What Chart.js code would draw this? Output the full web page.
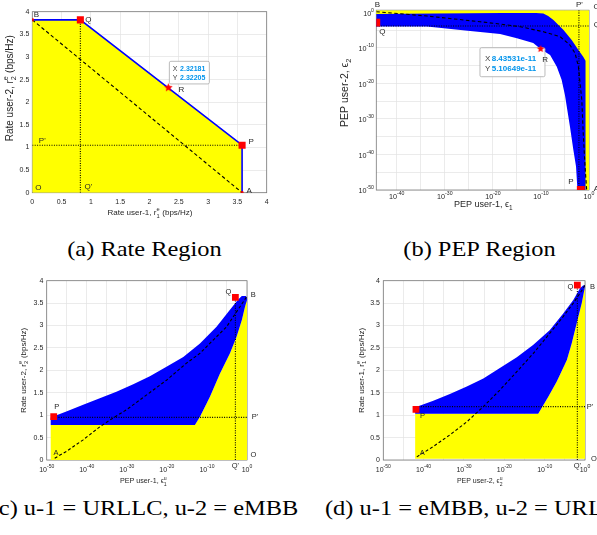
<!DOCTYPE html>
<html><head><meta charset="utf-8">
<script src="https://cdn.jsdelivr.net/npm/chart.js@4.4.1/dist/chart.umd.min.js"></script>
<style>
html,body{margin:0;padding:0;background:#fff;}
#wrap{position:relative;width:597px;height:535px;overflow:hidden;background:#fff;}
canvas{position:absolute;}
.cap{position:absolute;white-space:nowrap;text-align:center;font-family:"Liberation Serif","Times New Roman",serif;font-size:22px;line-height:22px;color:#000;transform:scaleX(1.11);}
</style></head><body>
<div id="wrap">
<canvas id="ca" width="300" height="225" style="left:0;top:0"></canvas>
<canvas id="cb" width="297" height="225" style="left:300px;top:0"></canvas>
<canvas id="cc" width="300" height="225" style="left:0;top:265px"></canvas>
<canvas id="cd" width="297" height="225" style="left:300px;top:265px"></canvas>
<div class="cap" style="left:0;width:289px;top:237.5px">(a) Rate Region</div>
<div class="cap" style="left:330px;width:299px;top:237.5px">(b) PEP Region</div>
<div class="cap" style="left:0;width:289px;top:497px">(c) u-1 = URLLC, u-2 = eMBB</div>
<div class="cap" style="left:330px;width:299px;top:497px">(d) u-1 = eMBB, u-2 = URLLC</div>
</div>
<script>
// ================= DATA =================
// (a) Rate region  (rates in bps/Hz)
const aRegionR1   = [0, 0, 0.82, 3.58, 3.58];
const aRegionR2   = [0, 3.82, 3.82, 1.05, 0];
const aFrontierR1 = [0, 0.82, 3.58, 3.58];
const aFrontierR2 = [3.82, 3.82, 1.05, 0];
const aTdmaR1 = [0, 3.58];
const aTdmaR2 = [3.82, 0];
const aP = [3.58, 1.05];
const aQ = [0.82, 3.82];
const aR = [2.32181, 2.32205];
const aB = [0, 3.82];
const aA = [3.58, 0];

// (b) PEP region  (PEP user-1, PEP user-2)
const bXMin = 5.6e-45, bXMax = 1, bYMin = 1e-50, bYMax = 4;
const bOuterPep1 = [3.2e-45, 1e-32, 1e-18, 1e-11, 3.2e-10, 3.2e-9, 4e-8, 5e-6, 2.5e-4, 6.3e-3, 6.3e-2, 0.19, 0.19];
const bOuterPep2 = [0.35, 0.5, 0.63, 0.63, 0.45, 0.1, 6.8e-3, 1e-5, 1.6e-8, 2.5e-11, 3.2e-13, 2.5e-14, 1e-50];
const bInnerPep1 = [2e-45, 2e-34, 6e-26, 3.2e-19, 1e-15, 2.5e-12, 8.5e-11, 8e-9, 2e-7, 2e-6, 1e-5, 1.1e-4, 5.5e-4, 2e-3, 4e-3];
const bInnerPep2 = [1e-4, 1e-4, 6.3e-6, 8e-7, 5e-8, 2.5e-9, 5.1e-11, 1e-12, 5e-16, 1e-19, 5e-24, 6.3e-33, 2e-39, 4e-44, 1e-50];
const bYellowPep1 = [3e-45, 1, 1, 0.1, 0.05, 0.01, 3e-5, 1e-8, 1e-15, 3e-45];
const bYellowPep2 = [4, 4, 1e-50, 1e-50, 1e-20, 1e-12, 1e-7, 1e-3, 1e-2, 1e-2];
const bDashPep1 = [5.6e-45, 2e-34, 2e-23, 3.2e-19, 5e-15, 3.2e-10, 1e-6, 1.1e-4, 1.26e-3, 6.3e-3, 1.4e-2, 3.2e-2, 6.3e-2, 0.15, 0.33];
const bDashPep2 = [1.5, 9e-2, 2.3e-3, 5e-4, 9e-5, 3.5e-6, 1.35e-7, 6.3e-10, 3.2e-12, 5e-16, 1e-20, 2e-25, 1e-34, 4e-44, 1e-50];
const bQ = [5.6e-45, 1.26e-3];
const bP = [0.02, 1e-50];
const bR = [8.43531e-11, 5.10649e-11];
const bQPrimePep2 = 1.5e-4;
const bPPrimePep1 = 8e-3;
const bXTickExp = [-40, -30, -20, -10, 0];
const bXGridExp = [-40, -35, -30, -25, -20, -15, -10, -5, 0];
const bYTickExp = [-50, -40, -30, -20, -10, 0];
const bYGridExp = [-50, -45, -40, -35, -30, -25, -20, -15, -10, -5, 0];

// (c) u-1 = URLLC (PEP), u-2 = eMBB (rate)
const cUpperPep  = [1e-49, 7.9e-46, 1.26e-41, 1.8e-37, 2.5e-33, 4e-29, 5.6e-25, 7.9e-21, 1.26e-16, 1.8e-12, 2.5e-8, 5.6e-5, 6.3e-3, 0.05, 0.56, 1];
const cUpperRate = [0.95, 1.08, 1.23, 1.38, 1.52, 1.69, 1.87, 2.08, 2.30, 2.60, 2.97, 3.35, 3.58, 3.66, 3.66, 3.61];
const cLowerPep  = [1, 0.32, 0.05, 2.5e-3, 5.6e-5, 1.8e-7, 5.6e-10, 1.8e-12, 1e-13, 1e-49];
const cLowerRate = [3.57, 3.42, 3.12, 2.75, 2.38, 1.93, 1.41, 0.966, 0.78, 0.78];
const cYellowPep  = [1e-49, 1e-49, 1e-13, 1.8e-12, 5.6e-10, 1.8e-7, 5.6e-5, 2.5e-3, 0.05, 0.32, 1, 1];
const cYellowRate = [0, 0.78, 0.78, 0.966, 1.41, 1.93, 2.38, 2.75, 3.12, 3.42, 3.57, 0];
const cDashPep  = [1e-48, 7.9e-46, 1.26e-41, 1.8e-37, 5.6e-35, 8e-31, 1.8e-27, 7.9e-21, 8e-16, 1.8e-12, 4e-9, 8e-6, 4e-4, 1.8e-2, 0.8];
const cDashRate = [0.04, 0.19, 0.45, 0.74, 0.89, 1.12, 1.34, 1.78, 2.16, 2.38, 2.68, 2.97, 3.2, 3.42, 3.64];
const cP = [5.6e-49, 0.97];
const cQ = [1.26e-3, 3.63];
const cPPrimeRate = 0.95;

// (d) u-1 = eMBB (rate), u-2 = URLLC (PEP)
const dUpperPep  = [7.9e-43, 2e-42, 2.5e-38, 3.2e-34, 5e-30, 6.3e-26, 7.9e-22, 1.26e-17, 1.6e-13, 2e-9, 4e-6, 1.26e-3, 0.058, 0.4, 1];
const dUpperRate = [1.19, 1.19, 1.32, 1.47, 1.64, 1.82, 2.05, 2.29, 2.57, 2.9, 3.27, 3.57, 3.83, 3.9, 3.89];
const dLowerPep  = [1, 0.16, 8.7e-3, 5e-4, 3.2e-5, 1e-7, 7.9e-10, 2.5e-12, 7.9e-43];
const dLowerRate = [3.87, 3.5, 3.05, 2.6, 2.23, 1.75, 1.41, 1.03, 1.03];
const dYellowPep  = [7.9e-43, 7.9e-43, 2.5e-12, 7.9e-10, 1e-7, 3.2e-5, 5e-4, 8.7e-3, 0.16, 1, 1];
const dYellowRate = [0.03, 1.03, 1.03, 1.41, 1.75, 2.23, 2.6, 3.05, 3.5, 3.87, 0.03];
const dDashPep  = [2e-42, 2.5e-38, 3.2e-34, 5e-30, 6.3e-26, 7.9e-22, 1.26e-17, 1.6e-13, 2e-9, 4e-6, 1.26e-3, 0.058, 1];
const dDashRate = [0.07, 0.30, 0.56, 0.85, 1.19, 1.56, 1.97, 2.38, 2.83, 3.2, 3.5, 3.72, 3.9];
const dP = [1.26e-42, 1.13];
const dQ = [0.0126, 3.9];
const dPPrimeRate = 1.19;

const cdXTickExp = [-50, -40, -30, -20, -10, 0];
const cdXGridExp = [-50, -45, -40, -35, -30, -25, -20, -15, -10, -5, 0];

// ================= STYLE / HELPERS =================
const FONT = '"Liberation Sans", Arial, Helvetica, "DejaVu Sans", sans-serif';
const TXT = '#262626', GRID = '#e2e2e2', BOX = '#7a7a7a';
const YEL = '#ffff00', BLU = '#0000ff', RED = '#ff0000';
Chart.defaults.font.family = FONT;
Chart.defaults.color = TXT;
function fnt(size, bold) { return (bold ? 'bold ' : '') + size + 'px ' + FONT; }
function pts(xs, ys) { return xs.map((x, i) => ({x: x, y: ys[i]})); }
function poly(xs, ys, color, order) {
  return {data: pts(xs, ys), showLine: true, fill: 'shape', backgroundColor: color, borderColor: 'rgba(0,0,0,0)',
          borderWidth: 0, pointRadius: 0, order: order};
}
function line(xs, ys, color, w, dash, order) {
  return {data: pts(xs, ys), showLine: true, fill: false, borderColor: color, borderWidth: w, borderDash: dash || [],
          pointRadius: 0, order: order};
}
function marker(p, style, r, order) {
  return {data: [{x: p[0], y: p[1]}], showLine: false, pointStyle: style, pointRadius: r,
          pointBackgroundColor: RED, pointBorderColor: RED, pointBorderWidth: 0, order: order};
}
function starImg(r) {
  const c = document.createElement('canvas'); const s = Math.ceil(r * 2 + 2);
  c.width = s; c.height = s;
  const g = c.getContext('2d'); g.fillStyle = RED; g.beginPath();
  for (let i = 0; i < 10; i++) {
    const ang = -Math.PI / 2 + i * Math.PI / 5, rr = (i % 2) ? r * 0.45 : r;
    g.lineTo(s / 2 + rr * Math.cos(ang), s / 2 + rr * Math.sin(ang));
  }
  g.closePath(); g.fill(); return c;
}
function drawRich(ctx, segs, x, y, size, rot) {
  ctx.save(); ctx.translate(x, y); if (rot) ctx.rotate(rot);
  const small = size * 0.72; let w = 0;
  const parts = segs.map(s => {
    if (typeof s === 'string') { ctx.font = fnt(size); const pw = ctx.measureText(s).width; w += pw; return {s: s, pw: pw}; }
    ctx.font = fnt(small);
    const pw = Math.max(s.sub ? ctx.measureText(s.sub).width : 0, s.sup ? ctx.measureText(s.sup).width : 0) + 0.5;
    w += pw; return {sub: s.sub, sup: s.sup, pw: pw};
  });
  let cx = -w / 2;
  ctx.fillStyle = TXT; ctx.textBaseline = 'middle'; ctx.textAlign = 'left';
  parts.forEach(p => {
    if (p.s !== undefined) { ctx.font = fnt(size); ctx.fillText(p.s, cx, 0); }
    else { ctx.font = fnt(small); if (p.sub) ctx.fillText(p.sub, cx, size * 0.38); if (p.sup) ctx.fillText(p.sup, cx, -size * 0.42); }
    cx += p.pw;
  });
  ctx.restore();
}
function drawLogTicks(chart, spec) {
  const ctx = chart.ctx, a = chart.chartArea, s = chart.scales[spec.axis];
  ctx.save(); ctx.fillStyle = TXT; ctx.textBaseline = 'middle'; ctx.textAlign = 'left';
  spec.exps.forEach(e => {
    const p = s.getPixelForValue(Math.pow(10, e));
    const es = String(e);
    ctx.font = fnt(spec.size); const wb = ctx.measureText('10').width;
    ctx.font = fnt(spec.size * 0.72); const we = ctx.measureText(es).width;
    let x0, yb;
    if (s.isHorizontal()) { x0 = p - (wb + we) / 2; yb = a.bottom + spec.off; }
    else { x0 = a.left - spec.off - (wb + we); yb = p + spec.dy; }
    ctx.font = fnt(spec.size); ctx.fillText('10', x0, yb);
    ctx.font = fnt(spec.size * 0.72); ctx.fillText(es, x0 + wb, yb - spec.size * 0.5);
  });
  ctx.restore();
}
function drawTip(chart, t) {
  const ctx = chart.ctx, sx = chart.scales.x, sy = chart.scales.y;
  const px = sx.getPixelForValue(t.at[0]), py = sy.getPixelForValue(t.at[1]);
  const L = px + t.box[0], T = py + t.box[1], W = t.box[2], H = t.box[3];
  ctx.save();
  ctx.beginPath();
  if (ctx.roundRect) ctx.roundRect(L, T, W, H, 1.5); else ctx.rect(L, T, W, H);
  ctx.fillStyle = 'rgba(255,255,255,0.93)'; ctx.fill();
  ctx.strokeStyle = '#a9a9a9'; ctx.lineWidth = 0.8; ctx.stroke();
  ctx.textBaseline = 'middle'; ctx.textAlign = 'left';
  t.lines.forEach((ln, i) => {
    const yy = T + t.line0 + i * t.gap;
    ctx.font = fnt(t.size); ctx.fillStyle = '#444'; ctx.fillText(ln[0], L + t.lx, yy);
    ctx.font = fnt(t.size, true); ctx.fillStyle = 'rgb(0,148,236)'; ctx.fillText(ln[1], L + t.vx, yy);
  });
  ctx.restore();
}
const decor = {
  id: 'decor',
  beforeDatasetsDraw(chart) {
    const ctx = chart.ctx, a = chart.chartArea;
    ctx.save(); ctx.strokeStyle = BOX; ctx.lineWidth = 0.8;
    ctx.strokeRect(a.left, a.top, a.right - a.left, a.bottom - a.top); ctx.restore();
  },
  afterDatasetDraw(chart, args, o) {
    if (o.tip && args.index === o.tip.afterIndex) drawTip(chart, o.tip);
  },
  afterDatasetsDraw(chart, args, o) {
    const ctx = chart.ctx, a = chart.chartArea, sc = chart.scales;
    (o.logTicks || []).forEach(spec => drawLogTicks(chart, spec));
    (o.titles || []).forEach(tt => {
      if (tt.axis === 'x') drawRich(ctx, tt.segs, (a.left + a.right) / 2 + tt.dx, a.bottom + tt.dy, tt.size, 0);
      else drawRich(ctx, tt.segs, a.left + tt.dx, (a.top + a.bottom) / 2 + tt.dy, tt.size, -Math.PI / 2);
    });
    ctx.save(); ctx.fillStyle = TXT; ctx.textAlign = 'center'; ctx.textBaseline = 'middle'; ctx.font = fnt(o.labelSize || 8);
    (o.labels || []).forEach(l => {
      ctx.fillText(l.t, sc.x.getPixelForValue(l.at[0]) + l.dx, sc.y.getPixelForValue(l.at[1]) + l.dy);
    });
    ctx.restore();
  }
};
function linAxis(isX, size, pad) {
  return {type: 'linear', min: 0, max: 4,
    afterFit: s => { if (isX) s.height = size; else s.width = size; },
    ticks: {stepSize: 0.5, autoSkip: false, maxRotation: 0, padding: pad, font: {size: 7}, color: TXT,
            callback: v => String(v)},
    grid: {color: GRID, lineWidth: 0.7, drawTicks: false}, border: {display: false}};
}
function logAxis(isX, size, min, max, gridExp) {
  return {type: 'logarithmic', min: min, max: max,
    afterFit: s => { if (isX) s.height = size; else s.width = size; },
    afterBuildTicks: s => { s.ticks = gridExp.map(e => ({value: Math.pow(10, e)})); },
    ticks: {display: false}, grid: {color: GRID, lineWidth: 0.7, drawTicks: false}, border: {display: false}};
}
function make(id, datasets, scales, padding, decorOpts) {
  return new Chart(document.getElementById(id), {
    type: 'scatter', data: {datasets: datasets}, plugins: [decor],
    options: {responsive: false, animation: false, devicePixelRatio: 1, events: [],
      layout: {padding: padding},
      plugins: {legend: {display: false}, tooltip: {enabled: false}, decor: decorOpts},
      scales: scales}
  });
}

// ================= (a) =================
make('ca', [
  poly(aRegionR1, aRegionR2, YEL, 10),
  line(aFrontierR1, aFrontierR2, BLU, 1.6, null, 6),
  line(aTdmaR1, aTdmaR2, '#000', 1.1, [3.5, 2.5], 5),
  line([aQ[0], aQ[0]], [0, aQ[1]], '#000', 1.1, [1, 1.4], 4),
  line([0, aP[0]], [aP[1], aP[1]], '#000', 1.1, [1, 1.4], 3),
  marker(aP, 'rect', 5, 2),
  marker(aQ, 'rect', 5, 2),
  marker(aB, 'circle', 1.8, 2),
  marker(aA, 'circle', 1.8, 2),
  marker(aR, starImg(4.5), 4, 1)
], {x: linAxis(true, 32.3, 5), y: linAxis(false, 32.3, 3)},
{left: 0, top: 11.7, right: 33.3, bottom: 0},
{
  labelSize: 8,
  tip: {afterIndex: 4, at: aR, box: [1, -26.3, 40, 22.6], lx: 3.4, vx: 10.7, line0: 7.6, gap: 9, size: 7,
        lines: [['X', String(aR[0])], ['Y', String(aR[1])]]},
  titles: [
    {axis: 'x', segs: ['Rate user-1, r', {sub: '1', sup: 'e'}, ' (bps/Hz)'], dx: 0.5, dy: 20.3, size: 8},
    {axis: 'y', segs: ['Rate user-2, r', {sub: '2', sup: 'e'}, ' (bps/Hz)'], dx: -22.3, dy: -14, size: 10}
  ],
  labels: [
    {t: 'B', at: aB, dx: 4, dy: -5.5}, {t: 'Q', at: aQ, dx: 8, dy: 0}, {t: 'R', at: aR, dx: 13, dy: 2},
    {t: 'P', at: aP, dx: 9, dy: -3}, {t: 'A', at: aA, dx: 7, dy: -2}, {t: 'O', at: [0, 0], dx: 6, dy: -5},
    {t: "Q'", at: [aQ[0], 0], dx: 8, dy: -6}, {t: "P'", at: [0, aP[1]], dx: 10, dy: -4}
  ]
});

// ================= (b) =================
make('cb', [
  poly(bYellowPep1, bYellowPep2, YEL, 10),
  poly(bOuterPep1.concat(bInnerPep1.slice().reverse()), bOuterPep2.concat(bInnerPep2.slice().reverse()), BLU, 9),
  line(bDashPep1, bDashPep2, '#000', 1.1, [3.5, 2.5], 5),
  line([bPPrimePep1, bPPrimePep1], [bYMax, bYMin], '#000', 1.1, [1, 1.4], 4),
  line([bQ[0], bXMax], [bQPrimePep2, bQPrimePep2], '#000', 1.1, [1, 1.4], 3),
  marker(bQ, 'rect', 5.6, 2),
  marker(bP, 'rect', 5.6, 2),
  marker(bR, starImg(4), 4, 1)
], {x: logAxis(true, 35, bXMin, bXMax, bXGridExp), y: logAxis(false, 76.3, bYMin, bYMax, bYGridExp)},
{left: 0, top: 10.2, right: 8, bottom: 0},
{
  labelSize: 8,
  tip: {afterIndex: 4, at: bR, box: [-60.6, -1.2, 65, 29], lx: 5, vx: 11.7, line0: 10.6, gap: 10, size: 8,
        lines: [['X', String(bR[0])], ['Y', String(bR[1])]]},
  logTicks: [
    {axis: 'x', exps: bXTickExp, size: 7.2, off: 6.8},
    {axis: 'y', exps: bYTickExp, size: 7.2, off: 2.3, dy: 1.5}
  ],
  titles: [
    {axis: 'x', segs: ['PEP user-1, ', '\u03F5', {sub: '1'}], dx: 1, dy: 14.5, size: 9},
    {axis: 'y', segs: ['PEP user-2, ', '\u03F5', {sub: '2'}], dx: -31.3, dy: -7.6, size: 10.5}
  ],
  labels: [
    {t: 'B', at: [bXMin, 1], dx: 1.2, dy: -7.8}, {t: 'Q', at: bQ, dx: 6, dy: 9.5}, {t: 'R', at: bR, dx: 4.5, dy: 11},
    {t: 'P', at: bP, dx: -10, dy: -8.5}, {t: 'A', at: [bXMax, bYMin], dx: 7.5, dy: -1},
    {t: "P'", at: [bPPrimePep1, 1], dx: 0.5, dy: -7.3}, {t: 'O', at: [bXMax, 1], dx: 7.5, dy: -6},
    {t: "Q'", at: [bXMax, bQPrimePep2], dx: 8.5, dy: -1}
  ]
});

// ================= (c) =================
make('cc', [
  poly(cYellowPep, cYellowRate, YEL, 10),
  poly(cUpperPep.concat(cLowerPep), cUpperRate.concat(cLowerRate), BLU, 9),
  line(cDashPep, cDashRate, '#000', 1.1, [3, 2.2], 5),
  line([cQ[0], cQ[0]], [0, cQ[1]], '#000', 1.1, [1, 1.4], 4),
  line([cP[0], 1], [cPPrimeRate, cPPrimeRate], '#000', 1.1, [1, 1.4], 3),
  marker(cP, 'rect', 4.8, 2),
  marker(cQ, 'rect', 4.8, 2)
], {x: logAxis(true, 30, 1e-50, 1, cdXGridExp), y: linAxis(false, 46.7, 3.4)},
{left: 0, top: 15.7, right: 53, bottom: 0},
{
  labelSize: 7.5,
  logTicks: [{axis: 'x', exps: cdXTickExp, size: 7, off: 10.5}],
  titles: [
    {axis: 'x', segs: ['PEP user-1, ', '\u03F5', {sub: '1', sup: 'u'}], dx: -3.3, dy: 21.5, size: 7.2},
    {axis: 'y', segs: ['Rate user-2, r', {sub: '2', sup: 'e'}, ' (bps/Hz)'], dx: -23.4, dy: 0, size: 8}
  ],
  labels: [
    {t: 'P', at: cP, dx: 3, dy: -10}, {t: 'Q', at: cQ, dx: -7, dy: -5},
    {t: "P'", at: [1, cPPrimeRate], dx: 8, dy: 0}, {t: "Q'", at: [cQ[0], 0], dx: 0, dy: 6},
    {t: 'O', at: [1, 0], dx: 6.5, dy: -5}, {t: 'B', at: [1, cDashRate[cDashRate.length - 1]], dx: 6.3, dy: -2},
    {t: 'A', at: [cDashPep[0], cDashRate[0]], dx: 1.3, dy: -5}
  ]
});

// ================= (d) =================
make('cd', [
  poly(dYellowPep, dYellowRate, YEL, 10),
  poly(dUpperPep.concat(dLowerPep), dUpperRate.concat(dLowerRate), BLU, 9),
  line(dDashPep, dDashRate, '#000', 1.1, [3, 2.2], 5),
  line([dQ[0], dQ[0]], [0, dQ[1]], '#000', 1.1, [1, 1.4], 4),
  line([dP[0], 1], [dPPrimeRate, dPPrimeRate], '#000', 1.1, [1, 1.4], 3),
  marker(dP, 'rect', 4.8, 2),
  marker(dQ, 'rect', 4.8, 2)
], {x: logAxis(true, 30, 1e-50, 1, cdXGridExp), y: linAxis(false, 83.3, 3.4)},
{left: 0, top: 15.7, right: 12, bottom: 0},
{
  labelSize: 7.5,
  logTicks: [{axis: 'x', exps: cdXTickExp, size: 7, off: 10.5}],
  titles: [
    {axis: 'x', segs: ['PEP user-2, ', '\u03F5', {sub: '2', sup: 'u'}], dx: -4.2, dy: 21.5, size: 7},
    {axis: 'y', segs: ['Rate user-1, r', {sub: '1', sup: 'e'}, ' (bps/Hz)'], dx: -21.6, dy: 0, size: 8}
  ],
  labels: [
    {t: 'P', at: dP, dx: 6.5, dy: 7}, {t: 'Q', at: dQ, dx: -7, dy: 1.5},
    {t: "P'", at: [1, dPPrimeRate], dx: 5, dy: 0}, {t: "Q'", at: [dQ[0], 0], dx: 0, dy: 5.5},
    {t: 'B', at: [1, dDashRate[dDashRate.length - 1]], dx: 7.5, dy: 1.5}, {t: 'O', at: [1, 0], dx: 9, dy: -1.5},
    {t: 'A', at: [dDashPep[0], dDashRate[0]], dx: 5.5, dy: -4}
  ]
});
</script>
</body></html>
